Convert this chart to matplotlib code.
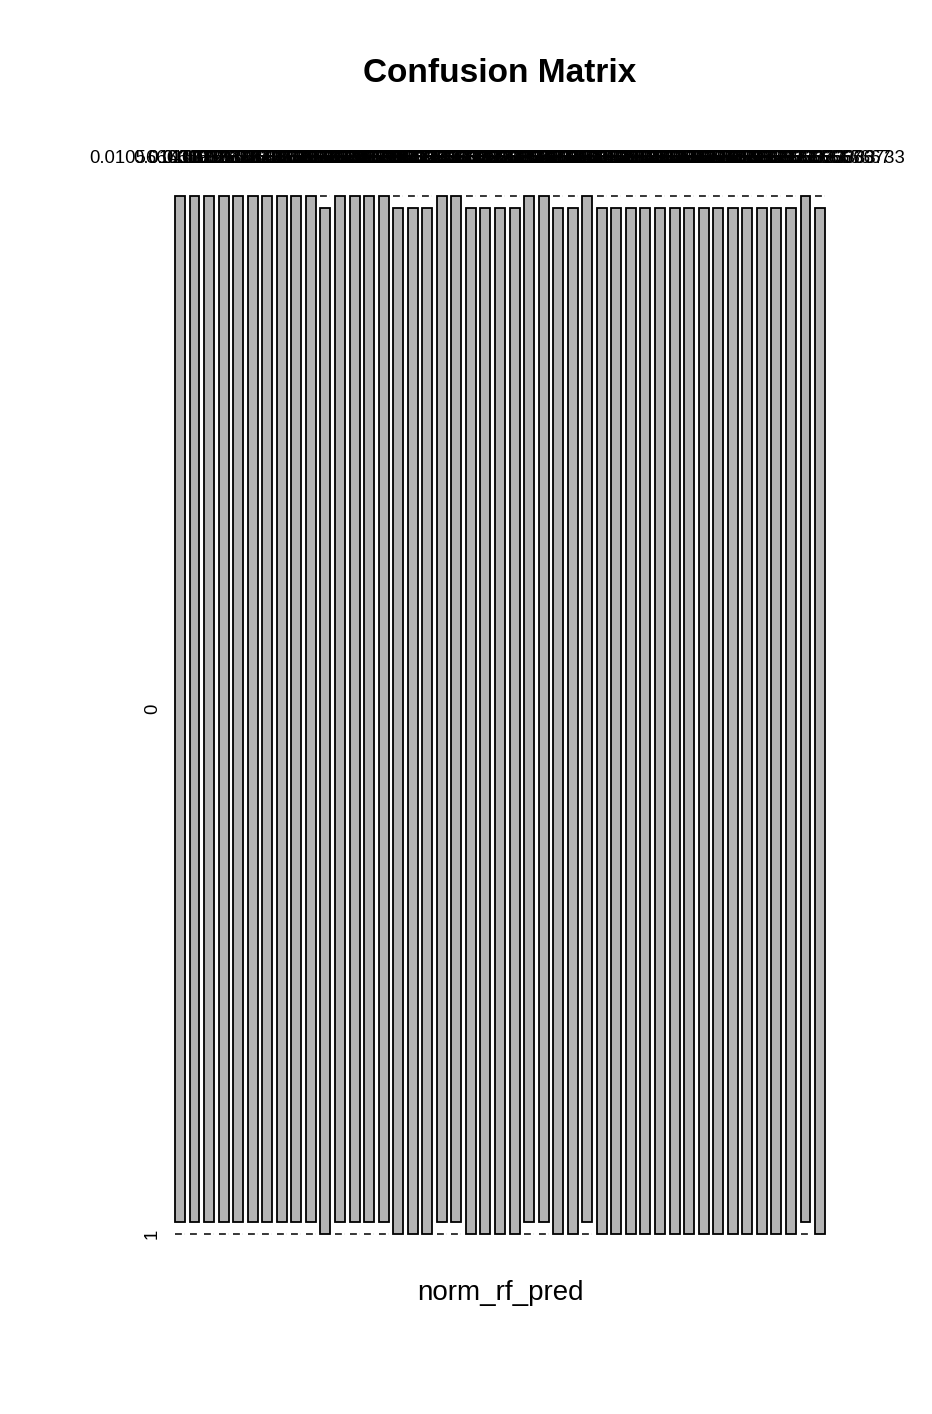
import matplotlib
matplotlib.use("Agg")
import matplotlib.pyplot as plt
import numpy as np

plt.rcParams['font.family'] = ['Liberation Sans', 'DejaVu Sans']

# prediction levels (columns), as R prints them
pred_levels = [
    "0.0105666666666667", "0.0116", "0.0127", "0.0143333333333333",
    "0.0166666666666667", "0.0193333333333333", "0.0226666666666667", "0.0263333333333333",
    "0.0306666666666667", "0.0353333333333333", "0.0406666666666667", "0.0463333333333333",
    "0.0526666666666667", "0.0593333333333333", "0.0666666666666667", "0.0743333333333333",
    "0.0826666666666667", "0.0913333333333333", "0.100666666666667", "0.106333333333333",
    "0.113333333333333", "0.126666666666667", "0.143333333333333", "0.156666666666667",
    "0.173333333333333", "0.196666666666667", "0.213333333333333", "0.236666666666667",
    "0.263333333333333", "0.286666666666667", "0.313333333333333", "0.346666666666667",
    "0.383333333333333", "0.416666666666667", "0.453333333333333", "0.496666666666667",
    "0.543333333333333", "0.586666666666667", "0.633333333333333", "0.676666666666667",
    "0.723333333333333", "0.776666666666667", "0.823333333333333", "0.875666666666667",
    "0.935666666666733",
]
# counts of actual class 0 / 1 for each level
count_0 = [1, 1, 1, 1, 1, 1, 1, 1, 1, 1, 0, 1, 1, 1, 1, 0, 0, 0, 1, 1,
           0, 0, 0, 0, 1, 1, 0, 0, 1, 0, 0, 0, 0, 0, 0, 0, 0, 0, 0, 0,
           0, 0, 0, 1, 0]
count_1 = [0, 0, 0, 0, 0, 0, 0, 0, 0, 0, 1, 0, 0, 0, 0, 1, 1, 1, 0, 0,
           1, 1, 1, 1, 0, 0, 1, 1, 0, 1, 1, 1, 1, 1, 1, 1, 1, 1, 1, 1,
           1, 1, 1, 0, 1]
row_labels = ["0", "1"]

W, H = 932, 1414
fig = plt.figure(figsize=(W / 100, H / 100), dpi=100)
left, right, top, bottom = 175, 825, 196, 1234
ax = fig.add_axes([left / W, 1 - bottom / H, (right - left) / W, (bottom - top) / H])

c0 = np.array(count_0, dtype=float)
c1 = np.array(count_1, dtype=float)
n = c0 + c1
ncol = len(pred_levels)
gx = 4.6 / (right - left)
gy = 12.0 / (bottom - top)

widths = n / n.sum() * (1 - gx * (ncol - 1))
lefts = np.concatenate([[0], np.cumsum(widths + gx)[:-1]])
centers = lefts + widths / 2
h1 = c1 / n * (1 - gy)
h0 = c0 / n * (1 - gy)

fill = '#B3B3B3'
dash = (0, (4.5, 2))
for i in range(ncol):
    xs = [lefts[i], lefts[i] + widths[i]]
    if h1[i] > 0:
        ax.bar(lefts[i], h1[i], width=widths[i], bottom=0, align='edge',
               color=fill, edgecolor='black', linewidth=1.3, clip_on=False)
    else:
        ax.plot(xs, [0, 0], color='black', lw=1.1, ls=dash, clip_on=False)
    if h0[i] > 0:
        b0 = h1[i] + gy if h1[i] > 0 else gy
        ax.bar(lefts[i], h0[i], width=widths[i], bottom=b0, align='edge',
               color=fill, edgecolor='black', linewidth=1.3, clip_on=False)
    else:
        ax.plot(xs, [1, 1], color='black', lw=1.1, ls=dash, clip_on=False)

ax.set_xlim(0, 1)
ax.set_ylim(0, 1)
for s in ax.spines.values():
    s.set_visible(False)

ax.set_xticks(centers)
ax.set_xticklabels(pred_levels, fontsize=13.3)
ax.tick_params(axis='x', top=False, bottom=False, labeltop=True, labelbottom=False,
               length=0, pad=21)

# y labels placed at the first column's cells, like R's mosaicplot
y0 = (h1[0] + gy + 1) / 2 if h1[0] > 0 else (gy + 1) / 2
ax.set_yticks([y0, h1[0] / 2])
ax.set_yticklabels(row_labels, fontsize=13.3, rotation=90, va='center')
ax.tick_params(axis='y', left=False, length=0, pad=10)

fig.text(500 / W, 1 - 73 / H, "Confusion Matrix", ha='center', va='center',
         fontsize=24, fontweight='bold')
fig.text(500 / W, 1 - 1293 / H, "norm_rf_pred", ha='center', va='center', fontsize=20)

fig.savefig("out.png", dpi=100, facecolor='white')
